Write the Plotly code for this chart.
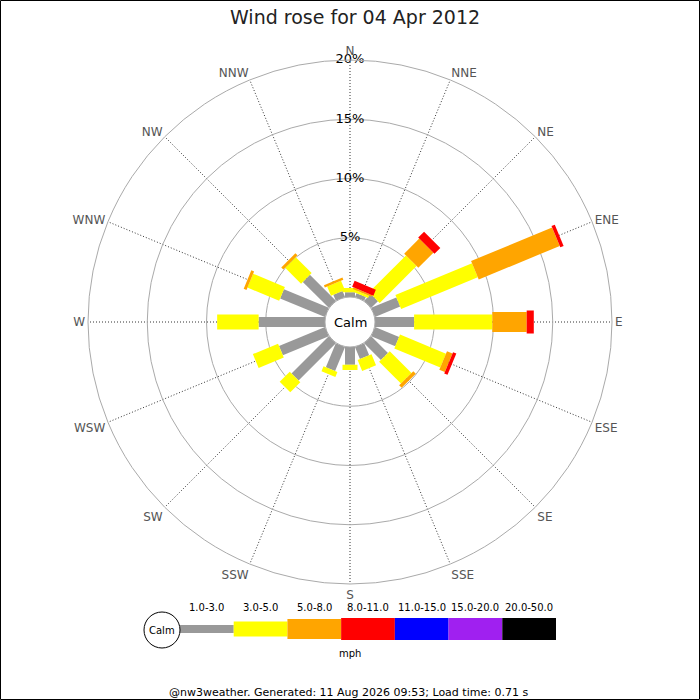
import plotly.graph_objects as go

# ---------------- data ----------------
directions = ["N", "NNE", "NE", "ENE", "E", "ESE", "SE", "SSE",
              "S", "SSW", "SW", "WSW", "W", "WNW", "NW", "NNW"]

speed_labels = ["1.0-3.0", "3.0-5.0", "5.0-8.0", "8.0-11.0",
                "11.0-15.0", "15.0-20.0", "20.0-50.0"]

# percentage of time per direction for each speed band (mph)
freq_1_3 = [0.40, 0.35, 0.80, 2.30, 3.30, 2.20, 2.00, 1.10,
            1.50, 2.20, 4.45, 4.20, 5.60, 4.10, 3.10, 0.55]
freq_3_5 = [0.35, 0.20, 4.40, 7.00, 6.60, 4.20, 2.60, 1.00,
            0.45, 0.45, 1.20, 2.30, 3.50, 2.90, 1.90, 0.85]
freq_5_8 = [0.00, 0.15, 1.80, 7.40, 2.90, 0.50, 0.30, 0.00,
            0.00, 0.00, 0.00, 0.00, 0.00, 0.25, 0.25, 0.20]
freq_8_11 = [0.00, 0.55, 0.70, 0.30, 0.60, 0.30, 0.00, 0.00,
             0.00, 0.00, 0.00, 0.00, 0.00, 0.00, 0.00, 0.00]

radial_ticks = [5, 10, 15, 20]
radial_labels = ["5%", "10%", "15%", "20%"]

title_text = "Wind rose for 04 Apr 2012"
footer_text = "@nw3weather. Generated: 11 Aug 2026 09:53; Load time: 0.71 s"

# ---------------- styles ----------------
band_colors = ["#999999", "#ffff00", "#ffa500", "#ff0000",
               "#0000ff", "#a020f0", "#000000"]
band_widths = [10, 15, 20, 23, 25, 27, 28]
legend_widths = [8, 15, 20, 23, 25, 27, 28]
FONT = "DejaVu Sans"

W = H = 700
cx, cy, R = 350, 322, 262   # pixel centre / outer radius of rose

fig = go.Figure()

series = [freq_1_3, freq_3_5, freq_5_8, freq_8_11]
cum = [0.0] * len(directions)
for k, vals in enumerate(series):
    rr, tt = [], []
    for i, d in enumerate(directions):
        if vals[i] > 0:
            rr += [cum[i], cum[i] + vals[i], None]
            tt += [d, d, None]
        cum[i] += vals[i]
    fig.add_trace(go.Scatterpolar(
        r=rr, theta=tt, mode="lines", connectgaps=False,
        line=dict(color=band_colors[k], width=band_widths[k]),
        hoverinfo="skip", showlegend=False))

# radial percentage labels along N axis
fig.add_trace(go.Scatterpolar(
    r=radial_ticks, theta=["N"] * len(radial_ticks), mode="text",
    text=radial_labels, textposition="middle center",
    textfont=dict(family=FONT, size=13, color="#000000"),
    hoverinfo="skip", showlegend=False, cliponaxis=False))


def label(x, y, text, size, color="#000000", xref="paper"):
    fig.add_annotation(x=x, y=y, xref=xref, yref="paper", text=text,
                       showarrow=False, xanchor="center", yanchor="middle",
                       font=dict(family=FONT, size=size, color=color))


# legend bars on a hidden cartesian axis
for i, lab in enumerate(speed_labels):
    fig.add_trace(go.Scatter(
        x=[i, i + 1], y=[0, 0], mode="lines",
        line=dict(color=band_colors[i], width=legend_widths[i]),
        xaxis="x", yaxis="y", hoverinfo="skip", showlegend=False))
    label(i + 0.5, (H - 607) / H, lab, 10, xref="x")

leg_x0, leg_x1 = 180, 556
fig.update_layout(
    width=W, height=H,
    margin=dict(l=0, r=0, t=0, b=0),
    paper_bgcolor="white", plot_bgcolor="white",
    font=dict(family=FONT),
    polar=dict(
        domain=dict(x=[(cx - R) / W, (cx + R) / W],
                    y=[(H - cy - R) / H, (H - cy + R) / H]),
        hole=25 / R,
        bgcolor="white",
        angularaxis=dict(
            type="category", categoryarray=directions,
            rotation=90, direction="clockwise",
            showgrid=True, gridcolor="#333333", griddash="1px,2px",
            gridwidth=1,
            showline=True, linecolor="#aaaaaa", linewidth=1,
            ticks="", tickfont=dict(family=FONT, size=12, color="#555555")),
        radialaxis=dict(
            range=[0, 20], tickvals=radial_ticks, showticklabels=False,
            showline=False, ticks="", gridcolor="#aaaaaa", gridwidth=1)),
    xaxis=dict(domain=[leg_x0 / W, leg_x1 / W], range=[0, 7],
               visible=False, fixedrange=True),
    yaxis=dict(domain=[(H - 640) / H, (H - 618) / H], range=[-1, 1],
               visible=False, fixedrange=True),
)

# legend calm circle
fig.add_shape(type="circle", xref="paper", yref="paper",
              x0=(162 - 18) / W, x1=(162 + 18) / W,
              y0=(H - 630 - 18) / H, y1=(H - 630 + 18) / H,
              line=dict(color="#000000", width=1), fillcolor="white")
label(162 / W, (H - 630) / H, "Calm", 10)
label(350 / W, (H - 653) / H, "mph", 10)

# centre calm label
label(cx / W, (H - cy) / H, "Calm", 13)

# title and footer
label(355 / W, (H - 17) / H, title_text, 19, "#222222")
label(348 / W, (H - 692) / H, footer_text, 11)

# frame
fig.add_shape(type="rect", xref="paper", yref="paper",
              x0=0.5 / W, x1=699.5 / W, y0=0.5 / H, y1=699.5 / H,
              line=dict(color="#000000", width=1))

fig.write_html("out.html",
               config={"displayModeBar": False},
               post_script="document.body.style.margin='0px';")
